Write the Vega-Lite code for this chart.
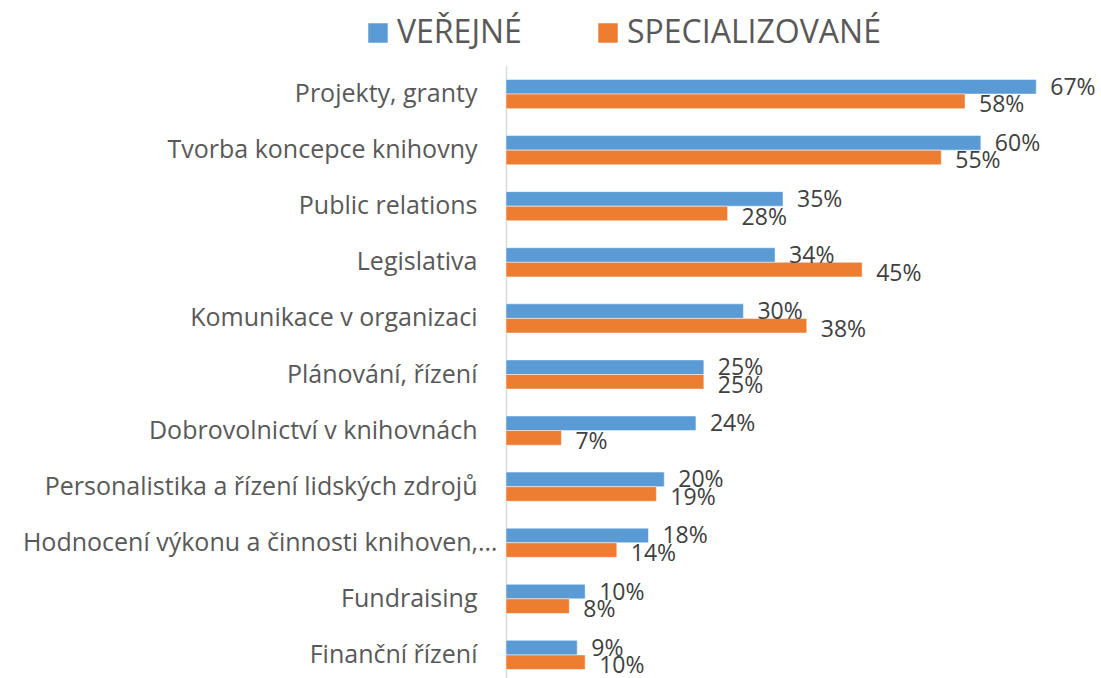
{
  "$schema": "https://vega.github.io/schema/vega-lite/v6.json",
  "autosize": {"type": "none"},
  "padding": {"left": 506, "top": 66, "right": 41, "bottom": 0},
  "width": 554,
  "height": 617,
  "background": "white",
  "config": {"view": {"stroke": null}, "font": "Open Sans"},
  "data": {
    "values": [
      {"oblast": "Projekty, granty", "typ": "VEŘEJNÉ", "podil": 0.67},
      {"oblast": "Projekty, granty", "typ": "SPECIALIZOVANÉ", "podil": 0.58},
      {"oblast": "Tvorba koncepce knihovny", "typ": "VEŘEJNÉ", "podil": 0.60},
      {"oblast": "Tvorba koncepce knihovny", "typ": "SPECIALIZOVANÉ", "podil": 0.55},
      {"oblast": "Public relations", "typ": "VEŘEJNÉ", "podil": 0.35},
      {"oblast": "Public relations", "typ": "SPECIALIZOVANÉ", "podil": 0.28},
      {"oblast": "Legislativa", "typ": "VEŘEJNÉ", "podil": 0.34},
      {"oblast": "Legislativa", "typ": "SPECIALIZOVANÉ", "podil": 0.45},
      {"oblast": "Komunikace v organizaci", "typ": "VEŘEJNÉ", "podil": 0.30},
      {"oblast": "Komunikace v organizaci", "typ": "SPECIALIZOVANÉ", "podil": 0.38},
      {"oblast": "Plánování, řízení", "typ": "VEŘEJNÉ", "podil": 0.25},
      {"oblast": "Plánování, řízení", "typ": "SPECIALIZOVANÉ", "podil": 0.25},
      {"oblast": "Dobrovolnictví v knihovnách", "typ": "VEŘEJNÉ", "podil": 0.24},
      {"oblast": "Dobrovolnictví v knihovnách", "typ": "SPECIALIZOVANÉ", "podil": 0.07},
      {"oblast": "Personalistika a řízení lidských zdrojů", "typ": "VEŘEJNÉ", "podil": 0.20},
      {"oblast": "Personalistika a řízení lidských zdrojů", "typ": "SPECIALIZOVANÉ", "podil": 0.19},
      {"oblast": "Hodnocení výkonu a činnosti knihoven,…", "typ": "VEŘEJNÉ", "podil": 0.18},
      {"oblast": "Hodnocení výkonu a činnosti knihoven,…", "typ": "SPECIALIZOVANÉ", "podil": 0.14},
      {"oblast": "Fundraising", "typ": "VEŘEJNÉ", "podil": 0.10},
      {"oblast": "Fundraising", "typ": "SPECIALIZOVANÉ", "podil": 0.08},
      {"oblast": "Finanční řízení", "typ": "VEŘEJNÉ", "podil": 0.09},
      {"oblast": "Finanční řízení", "typ": "SPECIALIZOVANÉ", "podil": 0.10}
    ]
  },
  "encoding": {
    "y": {
      "field": "oblast",
      "type": "nominal",
      "sort": null,
      "scale": {"paddingInner": 0.48, "paddingOuter": 0.24},
      "axis": {
        "title": null,
        "ticks": false,
        "domainColor": "#D9D9D9",
        "domainWidth": 1.5,
        "labelFontSize": 25,
        "labelColor": "#595959",
        "labelPadding": {"condition": {"test": "indexof(datum.label, '…') >= 0", "value": 9}, "value": 29},
        "labelLimit": 0
      }
    },
    "yOffset": {
      "field": "typ",
      "type": "nominal",
      "sort": ["VEŘEJNÉ", "SPECIALIZOVANÉ"],
      "scale": {"paddingInner": 0, "paddingOuter": 0}
    },
    "x": {
      "field": "podil",
      "type": "quantitative",
      "scale": {"domain": [0, 0.7], "nice": false},
      "axis": null
    }
  },
  "layer": [
    {
      "mark": {"type": "bar", "stroke": "white", "strokeWidth": 0.8, "strokeOpacity": 0.6},
      "encoding": {
        "color": {
          "field": "typ",
          "type": "nominal",
          "sort": ["VEŘEJNÉ", "SPECIALIZOVANÉ"],
          "scale": {"domain": ["VEŘEJNÉ", "SPECIALIZOVANÉ"], "range": ["#5B9BD5", "#ED7D31"]},
          "legend": {
            "title": null,
            "orient": "none",
            "direction": "horizontal",
            "legendX": -144,
            "legendY": -49,
            "padding": 0,
            "symbolType": "square",
            "symbolSize": 380,
            "symbolStrokeWidth": 0,
            "labelFontSize": 32,
            "labelColor": "#595959",
            "labelOffset": 3,
            "columnPadding": 70,
            "labelLimit": 0
          }
        }
      }
    },
    {
      "transform": [{"filter": "datum.typ === 'VEŘEJNÉ'"}],
      "mark": {"type": "text", "align": "left", "baseline": "middle", "dx": 14, "dy": 1, "fontSize": 23, "color": "#404040"},
      "encoding": {"text": {"field": "podil", "type": "quantitative", "format": ".0%"}}
    },
    {
      "transform": [{"filter": "datum.typ === 'SPECIALIZOVANÉ'"}],
      "mark": {"type": "text", "align": "left", "baseline": "middle", "dx": 14, "dy": 4, "fontSize": 23, "color": "#404040"},
      "encoding": {"text": {"field": "podil", "type": "quantitative", "format": ".0%"}}
    }
  ]
}
